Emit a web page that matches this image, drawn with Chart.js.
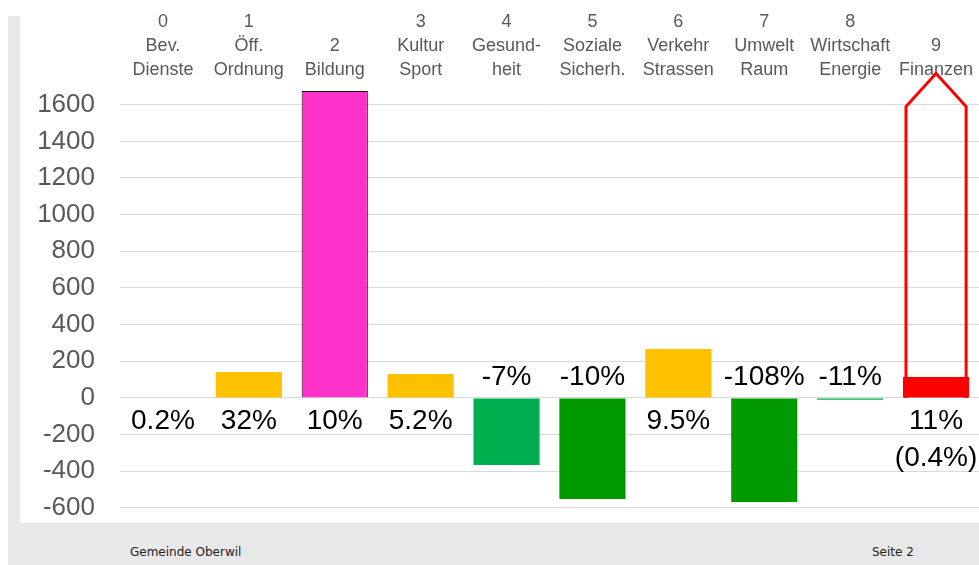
<!DOCTYPE html>
<html>
<head>
<meta charset="utf-8">
<script src="https://cdn.jsdelivr.net/npm/chart.js@4/dist/chart.umd.min.js"></script>
<style>
  body { margin: 0; background: #fff; width: 979px; height: 565px; overflow: hidden; position: relative; font-family: "Liberation Sans", Arial, sans-serif; }
  #frame { position: absolute; left: 8px; top: 16px; width: 971px; height: 549px; background: #e8e8e8; }
  #panel { position: absolute; left: 20px; top: 0; width: 959px; height: 523px; background: #fff; }
  .foot { position: absolute; top: 545px; font: 12px "DejaVu Sans", sans-serif; color: #222; }
</style>
</head>
<body>
<div id="frame"></div>
<div id="panel"><canvas id="myChart"></canvas></div>
<div class="foot" style="left:130px">Gemeinde Oberwil</div>
<div class="foot" style="left:872px">Seite 2</div>
<script>
// categories (top axis labels)
var categories = [
    ['0', 'Bev.', 'Dienste'],
    ['1', 'Öff.', 'Ordnung'],
    ['', '2', 'Bildung'],
    ['3', 'Kultur', 'Sport'],
    ['4', 'Gesund-', 'heit'],
    ['5', 'Soziale', 'Sicherh.'],
    ['6', 'Verkehr', 'Strassen'],
    ['7', 'Umwelt', 'Raum'],
    ['8', 'Wirtschaft', 'Energie'],
    ['', '9', 'Finanzen']
];
var values = [3, 142, 1675, 131, -365, -551, 267, -567, -10, 115];
var colors = ['#FFC000', '#FFC000', '#FF33CC', '#FFC000', '#00B050', '#009900', '#FFC000', '#009900', '#00B050', '#FF0000'];
var pctLabels = ['0.2%', '32%', '10%', '5.2%', '-7%', '-10%', '9.5%', '-108%', '-11%', ['11%', '(0.4%)']];
var yTicks = [-600, -400, -200, 0, 200, 400, 600, 800, 1000, 1200, 1400, 1600];
// outline arrow on "9 Finanzen"
var arrowBase = 0, arrowShoulder = 1590, arrowTip = 1770;

var arrowPlugin = {
    id: 'arrow',
    beforeDatasetsDraw: function(chart) {
        var c = chart.ctx, y = chart.scales.y;
        var bar = chart.getDatasetMeta(0).data[9];
        var half = bar.width / 2 - 3;
        c.save();
        c.strokeStyle = '#FF0000';
        c.lineWidth = 3;
        c.lineJoin = 'miter';
        c.beginPath();
        c.moveTo(bar.x - half, y.getPixelForValue(arrowBase));
        c.lineTo(bar.x - half, y.getPixelForValue(arrowShoulder));
        c.lineTo(bar.x, y.getPixelForValue(arrowTip));
        c.lineTo(bar.x + half, y.getPixelForValue(arrowShoulder));
        c.lineTo(bar.x + half, y.getPixelForValue(arrowBase));
        c.stroke();
        c.restore();
    }
};

var labelPlugin = {
    id: 'pctLabels',
    afterDatasetsDraw: function(chart) {
        var c = chart.ctx;
        var y0 = chart.scales.y.getPixelForValue(0);
        c.save();
        c.font = '28px "Liberation Sans", Arial, sans-serif';
        c.fillStyle = '#000';
        c.textAlign = 'center';
        c.textBaseline = 'middle';
        chart.getDatasetMeta(0).data.forEach(function(bar, i) {
            var lines = [].concat(pctLabels[i]);
            var ty = values[i] >= 0 ? y0 + 23 : y0 - 21;
            lines.forEach(function(t, k) { c.fillText(t, bar.x, ty + k * 37); });
        });
        c.restore();
    }
};

var ctx = document.getElementById('myChart').getContext('2d');
var chart = new Chart(ctx, {
    type: 'bar',
    data: {
        labels: categories,
        datasets: [{
            data: values,
            backgroundColor: colors,
            borderColor: colors.map(function(col, i) { return i === 2 ? '#000' : col; }),
            borderWidth: colors.map(function(col, i) { return i === 2 ? 1 : 0; }),
            categoryPercentage: 1,
            barPercentage: 0.77
        }]
    },
    options: {
        responsive: true,
        maintainAspectRatio: false,
        animation: false,
        devicePixelRatio: 1,
        layout: { padding: { left: 17, right: 0, top: 10, bottom: 0 } },
        plugins: { legend: { display: false }, tooltip: { enabled: false } },
        scales: {
            x: {
                position: 'top',
                grid: { display: false },
                border: { display: false },
                ticks: {
                    color: '#595959',
                    font: { family: '"Liberation Sans", Arial, sans-serif', size: 18, lineHeight: 1.33 },
                    padding: 0,
                    maxRotation: 0,
                    autoSkip: false
                }
            },
            y: {
                min: -682,
                max: 1681,
                afterBuildTicks: function(axis) {
                    axis.ticks = yTicks.map(function(v) { return { value: v }; });
                },
                afterFit: function(axis) {
                    axis.width = 83;
                    axis.paddingTop = 0;
                    axis.paddingBottom = 0;
                },
                grid: { color: '#d9d9d9', drawTicks: false },
                border: { display: false },
                ticks: {
                    color: '#595959',
                    font: { family: '"Liberation Sans", Arial, sans-serif', size: 26 },
                    padding: 25,
                    callback: function(v) { return String(v); }
                }
            }
        }
    },
    plugins: [arrowPlugin, labelPlugin]
});
</script>
</body>
</html>
